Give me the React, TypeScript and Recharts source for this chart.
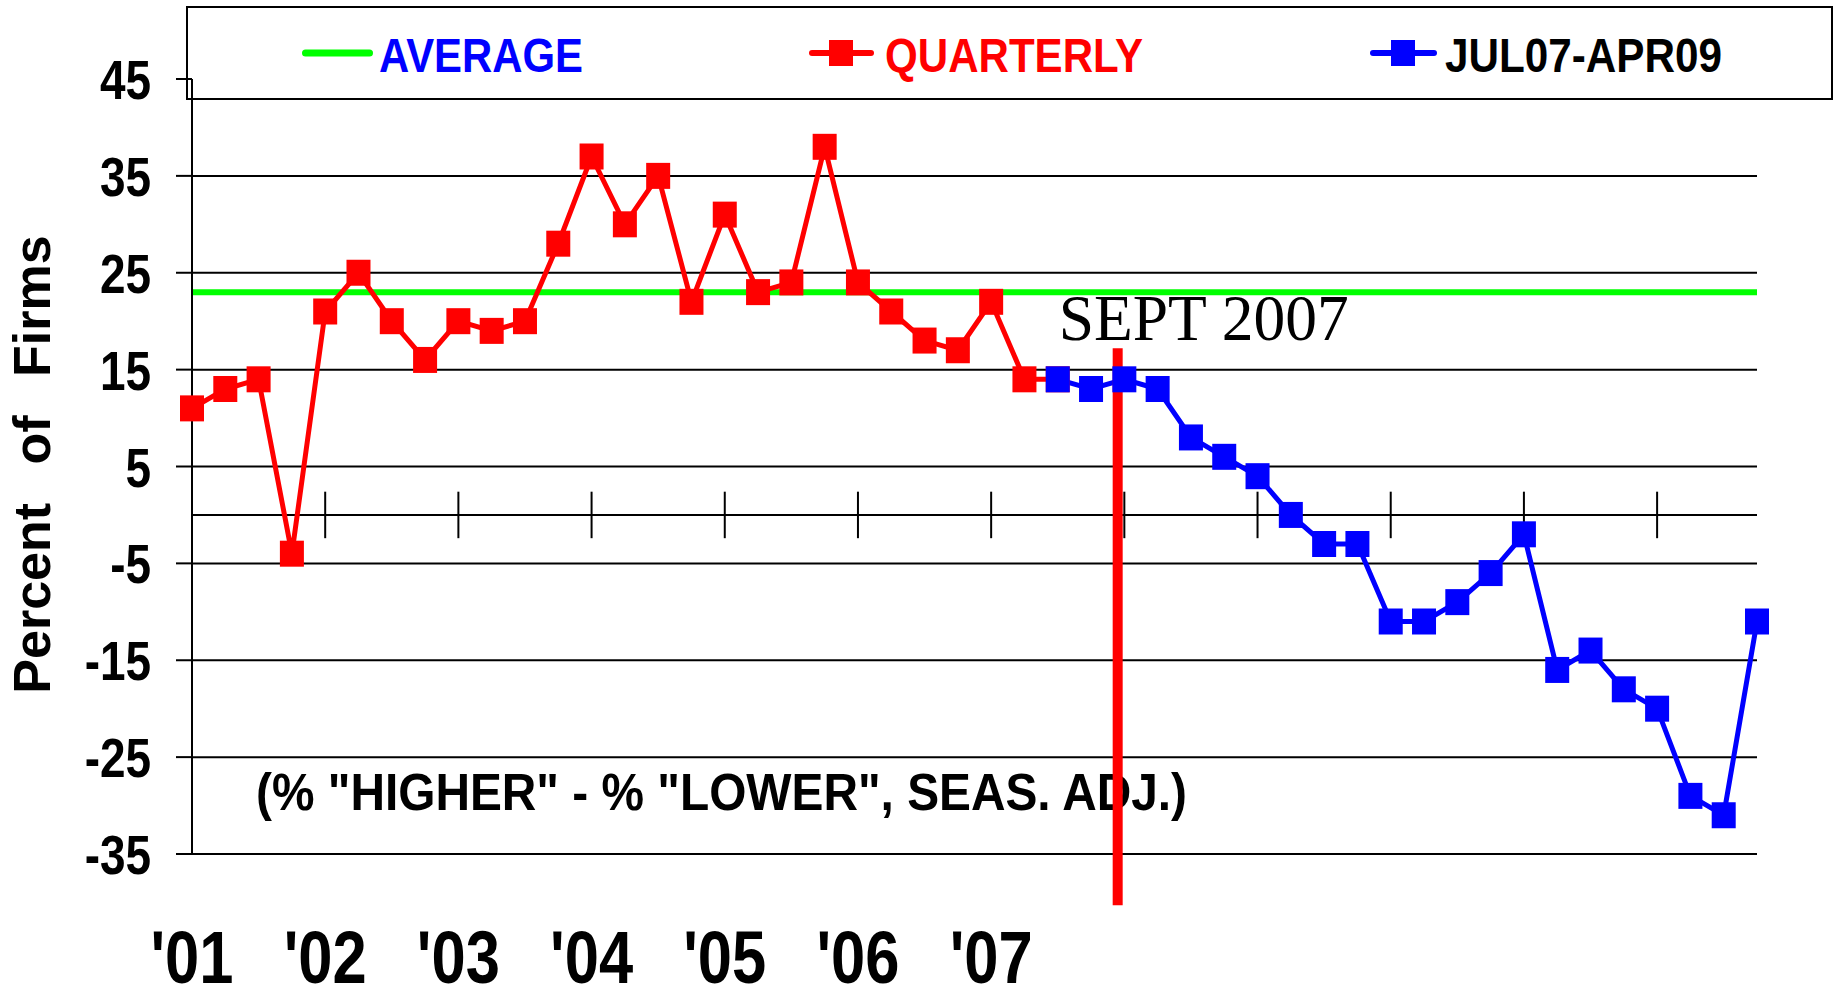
import React from 'react';
import { LineChart, Line, XAxis, YAxis, CartesianGrid, ReferenceLine, Legend } from 'recharts';

// Percent of firms, quarterly 2001 Q1 .. 2007 Q3
const QUARTERLY = [11, 13, 14, -4, 21, 25, 20, 16, 20, 19, 20, 28, 37, 30, 35, 22, 31, 23, 24, 38, 24, 21, 18, 17, 22, 14, 14];
// monthly Jul07 .. Apr09, starting at the Jul07 slot
const MONTHLY = [14, 13, 14, 13, 8, 6, 4, 0, -3, -3, -11, -11, -9, -6, -2, -16, -14, -18, -20, -29, -31, -11];
const MONTHLY_START = 26;
const AVERAGE = 23;
const SEPT_2007 = 27.8;

const Y_TICKS = [-35, -25, -15, -5, 5, 15, 25, 35, 45];
const GRID_VALUES = [-35, -25, -15, -5, 5, 15, 25, 35];
const YEAR_LABELS = ["'01", "'02", "'03", "'04", "'05", "'06", "'07"];
const YEAR_TICKS = [0, 4, 8, 12, 16, 20, 24];
const AXIS_MARKS = [0, 4, 8, 12, 16, 20, 24, 28, 32, 36, 40, 44];

const RED = '#ff0000';
const BLUE = '#0000ff';
const GREEN = '#00ff00';
const SANS = '"Liberation Sans", Arial, sans-serif';
const SERIF = '"Liberation Serif", "Times New Roman", serif';

const data = Array.from({ length: MONTHLY_START + MONTHLY.length }, (_, i) => ({
  idx: i,
  quarterly: i < QUARTERLY.length ? QUARTERLY[i] : null,
  monthly: i >= MONTHLY_START ? MONTHLY[i - MONTHLY_START] : null,
}));

const squareDot = (color: string) => (props: any) => {
  const { cx, cy, index, value } = props;
  if (cx == null || cy == null || value == null) return <g key={`e-${index}`} />;
  return <rect key={`d-${index}`} x={cx - 12} y={cy - 13} width={24} height={26} fill={color} />;
};

const YTick = ({ x, y, payload }: any) => (
  <text
    transform={`translate(${x},${y + 20}) scale(0.82,1)`}
    textAnchor="end"
    fontSize={56}
    fontWeight="bold"
    fill="#000"
    fontFamily={SANS}
  >
    {payload.value}
  </text>
);

const XTick = ({ x, y, payload }: any) => {
  const i = YEAR_TICKS.indexOf(payload.value);
  return (
    <text
      transform={`translate(${x},${y + 129}) scale(0.82,1)`}
      textAnchor="middle"
      fontSize={75}
      fontWeight="bold"
      fill="#000"
      fontFamily={SANS}
    >
      {YEAR_LABELS[i]}
    </text>
  );
};

const YTitle = (props: any) => {
  const vb = props.viewBox || { x: 0, y: 79, width: 192, height: 775 };
  const cx = vb.x + 50;
  const cy = vb.y + vb.height / 2 - 2;
  return (
    <text
      transform={`translate(${cx},${cy}) rotate(-90)`}
      textAnchor="middle"
      fontSize={52}
      fontWeight="bold"
      fill="#000"
      fontFamily={SANS}
      style={{ wordSpacing: 24 }}
    >
      Percent of Firms
    </text>
  );
};

const NoteLabel = (props: any) => {
  const vb = props.viewBox || { x: 192, y: 514 };
  return (
    <text
      x={vb.x + 64}
      y={vb.y + 295}
      fontSize={52}
      fontWeight="bold"
      fill="#000"
      fontFamily={SANS}
      textLength={931}
      lengthAdjust="spacingAndGlyphs"
    >
      (% "HIGHER" - % "LOWER", SEAS. ADJ.)
    </text>
  );
};

const SeptLabel = (props: any) => {
  const vb = props.viewBox || { x: 1118, y: 348 };
  return (
    <text
      x={vb.x - 59}
      y={vb.y - 8}
      fontSize={66}
      fill="#000"
      fontFamily={SERIF}
      textLength={290}
      lengthAdjust="spacingAndGlyphs"
    >
      SEPT 2007
    </text>
  );
};

const LegendBox = () => (
  <svg width={1647} height={94} style={{ display: 'block' }}>
    <rect x={1} y={1} width={1645} height={92} fill="none" stroke="#000" strokeWidth={2} />
    <line x1={119.5} x2={183.5} y1={47} y2={47} stroke={GREEN} strokeWidth={7} strokeLinecap="round" />
    <text x={193} y={65.5} fontSize={49} fontWeight="bold" fill={BLUE} fontFamily={SANS} textLength={204} lengthAdjust="spacingAndGlyphs">
      AVERAGE
    </text>
    <line x1={626} x2={685} y1={47} y2={47} stroke={RED} strokeWidth={6} strokeLinecap="round" />
    <rect x={643} y={34} width={24} height={26} fill={RED} />
    <text x={699} y={65.5} fontSize={49} fontWeight="bold" fill={RED} fontFamily={SANS} textLength={258} lengthAdjust="spacingAndGlyphs">
      QUARTERLY
    </text>
    <line x1={1187} x2={1248} y1={47} y2={47} stroke={BLUE} strokeWidth={6} strokeLinecap="round" />
    <rect x={1205} y={34} width={24} height={26} fill={BLUE} />
    <text x={1259} y={65.5} fontSize={49} fontWeight="bold" fill="#000" fontFamily={SANS} textLength={277} lengthAdjust="spacingAndGlyphs">
      JUL07-APR09
    </text>
  </svg>
);

export default function App() {
  return (
    <div style={{ position: 'absolute', left: 0, top: 0, width: 1839, height: 989, background: '#fff', fontFamily: SANS }}>
      <LineChart width={1839} height={989} data={data} margin={{ top: 79, right: 82, bottom: 35, left: 0 }}>
        <CartesianGrid horizontal vertical={false} horizontalValues={GRID_VALUES} stroke="#000" strokeWidth={2} strokeOpacity={1} />
        <XAxis
          dataKey="idx"
          type="number"
          domain={[0, 47]}
          ticks={YEAR_TICKS}
          interval={0}
          axisLine={false}
          tickLine={false}
          tickSize={0}
          tickMargin={0}
          height={100}
          tick={<XTick />}
        />
        <YAxis
          type="number"
          domain={[-35, 45]}
          ticks={Y_TICKS}
          interval={0}
          width={192}
          tickSize={16}
          tickMargin={25}
          axisLine={{ stroke: '#000', strokeWidth: 2 }}
          tickLine={{ stroke: '#000', strokeWidth: 2 }}
          tick={<YTick />}
          label={<YTitle />}
        />
        <Legend
          layout="horizontal"
          verticalAlign="middle"
          align="center"
          content={() => <LegendBox />}
          wrapperStyle={{ left: 186, top: 6, width: 1647, height: 94 }}
        />
        <ReferenceLine y={0} stroke="#000" strokeWidth={2} label={NoteLabel} />
        {AXIS_MARKS.map((m) => (
          <ReferenceLine
            key={`m-${m}`}
            segment={[{ x: m, y: 2.4 }, { x: m, y: -2.4 }]}
            stroke="#000"
            strokeWidth={2}
            ifOverflow="visible"
          />
        ))}
        <ReferenceLine y={AVERAGE} stroke={GREEN} strokeWidth={6} />
        <Line
          dataKey="quarterly"
          stroke={RED}
          strokeWidth={5}
          dot={squareDot(RED)}
          activeDot={false}
          isAnimationActive={false}
        />
        <Line
          dataKey="monthly"
          stroke={BLUE}
          strokeWidth={5}
          dot={squareDot(BLUE)}
          activeDot={false}
          isAnimationActive={false}
        />
        <ReferenceLine
          segment={[{ x: SEPT_2007, y: 17.2 }, { x: SEPT_2007, y: -40.3 }]}
          stroke={RED}
          strokeWidth={10}
          ifOverflow="visible"
          label={SeptLabel}
        />
      </LineChart>
    </div>
  );
}
